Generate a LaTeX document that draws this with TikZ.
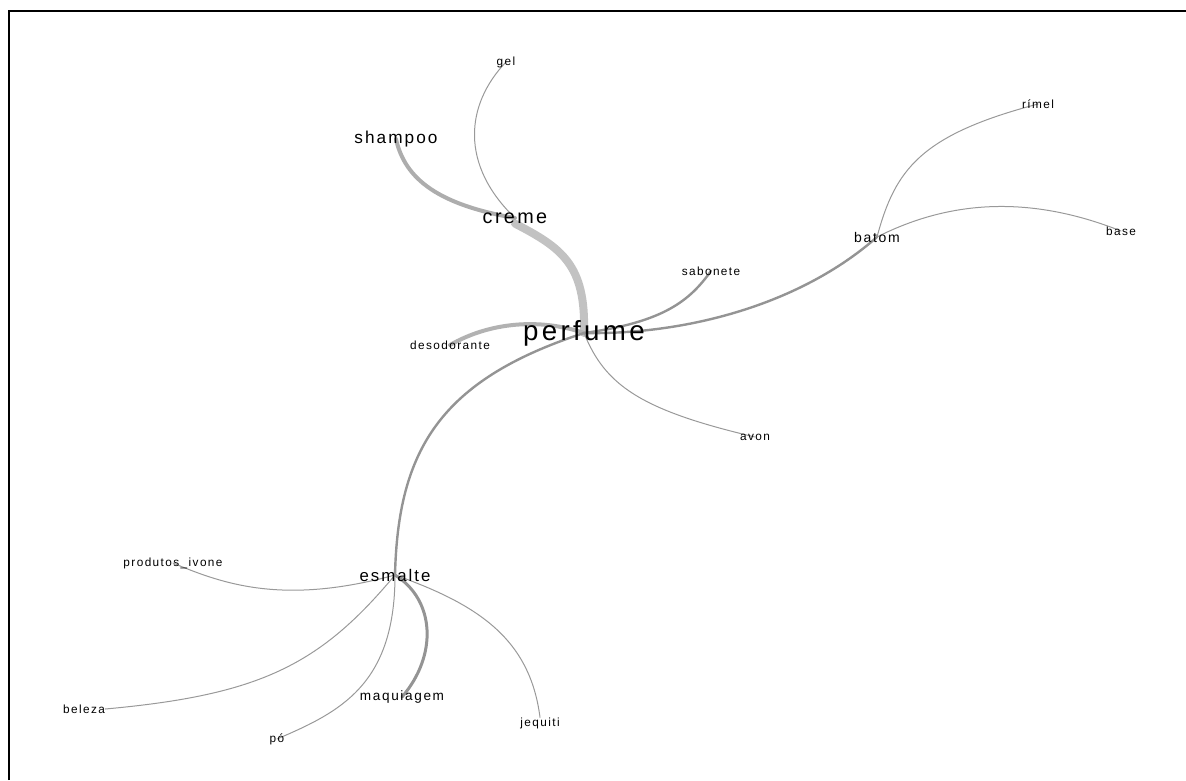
\documentclass[tikz,border=0pt]{standalone}
\usepackage{fontspec}
\setmainfont{Liberation Sans}[LetterSpace=12]
\usetikzlibrary{backgrounds}

\begin{document}
\begin{tikzpicture}[
    x=1pt, y=-1pt,
    word/.style={inner sep=0pt, text=black, font=\fontsize{#1pt}{#1pt}\selectfont},
    word/.default=11.8,
    link/.style={line width=#1, line cap=round},
    thin link/.style={link=1pt, black!40},
    mid link/.style={link=2.4pt, black!42},
    heavy link/.style={link=4pt, black!32},
    trunk link/.style={link=8pt, black!24}
]

% Canvas and frame
\useasboundingbox (0,0) rectangle (1186,780);
\draw[line width=2pt] (9,780) -- (9,11) -- (1186,11);

% Words
\node[word=27.7] (perfume) at (584,333) {perfume};
\node[word=19.8] (creme) at (515,218) {creme};
\node[word=17.2] (shampoo) at (396,139) {shampoo};
\node[word] (gel) at (506,62) {gel};
\node[word] (desodorante) at (450,345) {desodorante};
\node[word] (sabonete) at (711,271) {sabonete};
\node[word=14] (batom) at (877,237) {batom};
\node[word] (rimel) at (1038,104) {rímel};
\node[word] (base) at (1121,231) {base};
\node[word] (avon) at (755,437) {avon};
\node[word=16.8] (esmalte) at (395,575) {esmalte};
\node[word] (produtos) at (173,563) {produtos\_ivone};
\node[word] (beleza) at (84,709) {beleza};
\node[word] (po) at (277,739) {pó};
\node[word=13.6] (maquiagem) at (402,697) {maquiagem};
\node[word] (jequiti) at (540,723) {jequiti};

% Links
\begin{scope}[on background layer]
    % around creme
    \draw[trunk link] (creme.south) .. controls (562,248) and (586,265) .. (perfume.center);
    \draw[heavy link] (shampoo.center) .. controls (405,180) and (440,205) .. (creme.center);
    \draw[thin link] (gel.center) .. controls (465,105) and (460,165) .. (creme.center);

    % around perfume
    \draw[heavy link, black!30] (desodorante.center) .. controls (490,322) and (540,318) .. (perfume.center);
    \draw[mid link] (sabonete.center) .. controls (690,300) and (665,322) .. (perfume.center);
    \draw[mid link] (batom.center) .. controls (800,305) and (685,335) .. (perfume.center);
    \draw[thin link] (perfume.center) .. controls (605,385) and (640,410) .. (avon.center);
    \draw[mid link] (esmalte.center) .. controls (398,450) and (440,380) .. (perfume.center);

    % around batom
    \draw[thin link] (batom.center) .. controls (895,170) and (920,135) .. (rimel.center);
    \draw[thin link] (batom.center) .. controls (950,200) and (1030,195) .. (base.center);

    % around esmalte
    \draw[thin link] (produtos.center) .. controls (225,585) and (285,605) .. (esmalte.center);
    \draw[thin link] (beleza.east) .. controls (260,695) and (320,665) .. (esmalte.center);
    \draw[thin link] (po.center) .. controls (340,712) and (395,685) .. (esmalte.center);
    \draw[mid link, link=3pt] (maquiagem.center) .. controls (438,655) and (435,600) .. (esmalte.center);
    \draw[thin link] (jequiti.north) .. controls (530,640) and (480,605) .. (esmalte.center);
\end{scope}

\end{tikzpicture}
\end{document}
